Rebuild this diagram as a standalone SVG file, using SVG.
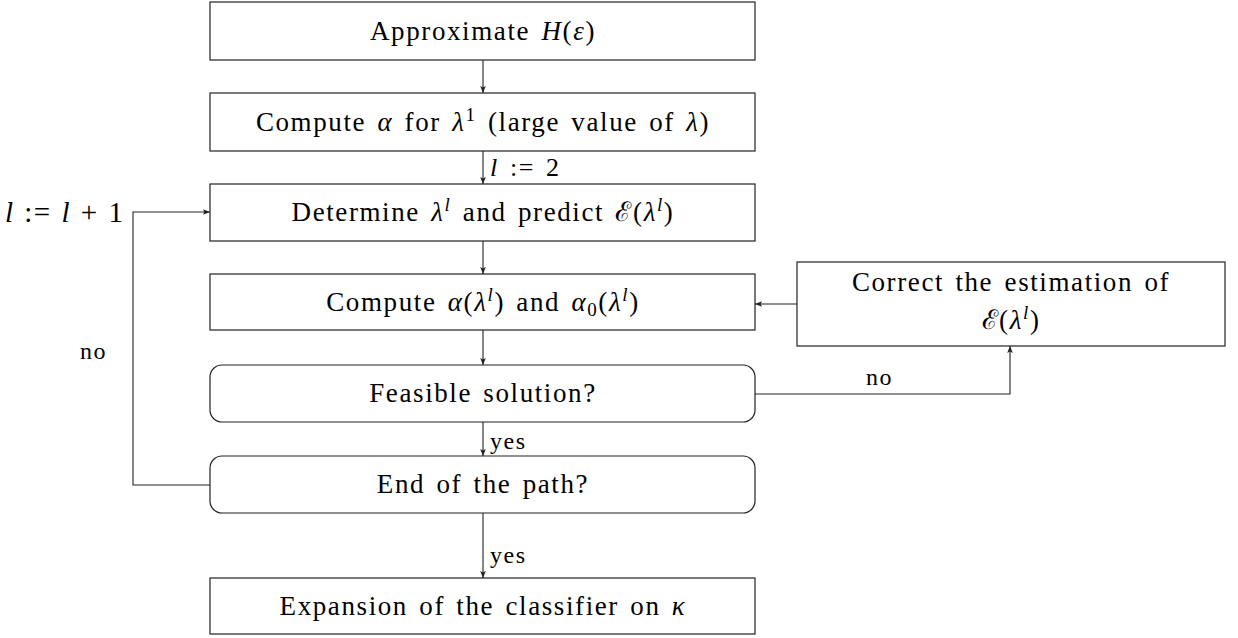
<svg xmlns="http://www.w3.org/2000/svg" width="1238" height="638" viewBox="0 0 1238 638">
<style>
.box{fill:#fff;stroke:#222;stroke-width:1.2}
.c{fill:none;stroke:#222;stroke-width:1.1}
text{font-family:"Liberation Serif","DejaVu Serif",serif;font-size:27px;fill:#000;letter-spacing:1.6px;word-spacing:3px}
.m{text-anchor:middle}
.i{font-style:italic}
.l{font-size:24px}
</style>
<defs>
<marker id="ah" viewBox="0 0 10 10" refX="10" refY="5" markerWidth="7" markerHeight="7" markerUnits="userSpaceOnUse" orient="auto">
<path d="M0,1 L10,5 L0,9 L2,5 Z" fill="#222"/>
</marker>
</defs>
<rect width="1238" height="638" fill="#fff"/>
<g id="connectors">
<path class="c" d="M483,60 V93" marker-end="url(#ah)"/>
<path class="c" d="M483,151 V184" marker-end="url(#ah)"/>
<path class="c" d="M483,241 V274" marker-end="url(#ah)"/>
<path class="c" d="M483,330 V365" marker-end="url(#ah)"/>
<path class="c" d="M483,422 V456" marker-end="url(#ah)"/>
<path class="c" d="M483,513 V578" marker-end="url(#ah)"/>
<path class="c" d="M797,304 H755" marker-end="url(#ah)"/>
<path class="c" d="M755,394 H1010 V346" marker-end="url(#ah)"/>
<path class="c" d="M210,485 H133 V212 H210" marker-end="url(#ah)"/>
<text x="490" y="176" style="font-size:26px"><tspan class="i">l</tspan> := 2</text>
<text class="l" x="490" y="449">yes</text>
<text class="l" x="490" y="563">yes</text>
<text class="l" x="866" y="385">no</text>
<text class="l" x="80" y="359">no</text>
<text x="5" y="222" style="font-size:29px;letter-spacing:1.5px;word-spacing:1px"><tspan class="i">l</tspan> := <tspan class="i">l</tspan> + 1</text>
</g>
<g id="n1">
<rect class="box" x="210" y="2" width="545" height="58"/>
<text class="m" x="483" y="40">Approximate <tspan class="i">H</tspan>(<tspan class="i">ε</tspan>)</text>
</g>
<g id="n2">
<rect class="box" x="210" y="93" width="545" height="58"/>
<text class="m" x="483" y="131">Compute <tspan class="i">α</tspan> for <tspan class="i">λ</tspan><tspan dy="-10" font-size="19">1</tspan><tspan dy="10"> (large value of </tspan><tspan class="i">λ</tspan>)</text>
</g>
<g id="n3">
<rect class="box" x="210" y="184" width="545" height="57"/>
<text class="m" x="483" y="221">Determine <tspan class="i">λ</tspan><tspan class="i" dy="-10" font-size="19">l</tspan><tspan dy="10"> and predict ℰ(</tspan><tspan class="i">λ</tspan><tspan class="i" dy="-10" font-size="19">l</tspan><tspan dy="10">)</tspan></text>
</g>
<g id="n4">
<rect class="box" x="210" y="274" width="545" height="56"/>
<text class="m" x="483" y="311">Compute <tspan class="i">α</tspan>(<tspan class="i">λ</tspan><tspan class="i" dy="-10" font-size="19">l</tspan><tspan dy="10">) and </tspan><tspan class="i">α</tspan><tspan dy="5" font-size="19">0</tspan><tspan dy="-5">(</tspan><tspan class="i">λ</tspan><tspan class="i" dy="-10" font-size="19">l</tspan><tspan dy="10">)</tspan></text>
</g>
<g id="n5">
<rect class="box" x="210" y="365" width="545" height="57" rx="12"/>
<text class="m" x="483" y="402">Feasible solution?</text>
</g>
<g id="n6">
<rect class="box" x="210" y="456" width="545" height="57" rx="12"/>
<text class="m" x="483" y="493">End of the path?</text>
</g>
<g id="n7">
<rect class="box" x="210" y="578" width="545" height="56"/>
<text class="m" x="483" y="615">Expansion of the classifier on <tspan class="i">κ</tspan></text>
</g>
<g id="n8">
<rect class="box" x="797" y="262" width="428" height="84"/>
<text class="m" x="1011" y="291">Correct the estimation of</text>
<text class="m" x="1011" y="329">ℰ(<tspan class="i">λ</tspan><tspan class="i" dy="-10" font-size="19">l</tspan><tspan dy="10">)</tspan></text>
</g>
</svg>
